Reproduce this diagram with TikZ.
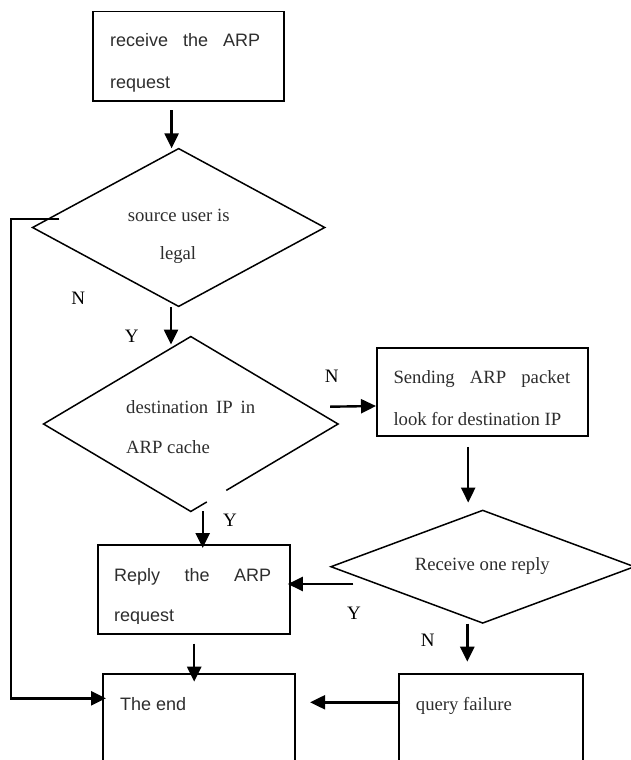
\documentclass[tikz,border=0pt]{standalone}
\usepackage{fontspec}
\setmainfont{Liberation Serif}
\newfontfamily\arialfont{Liberation Sans}
\usetikzlibrary{arrows.meta,shapes.geometric,calc}
\definecolor{txtgray}{RGB}{45,45,45}
\begin{document}
\begin{tikzpicture}[x=1pt,y=-1pt,
  box/.style={draw, line width=1.8pt, inner sep=0pt, anchor=north west},
  dia/.style={diamond, line width=1.5pt, inner sep=0pt},
  flow/.style={line width=2.4pt, -{Triangle[length=15pt,width=14pt]}},
  sanstxt/.style={font=\arialfont\fontsize{18}{18}\selectfont, text=txtgray, inner sep=0pt, anchor=base west},
  sertxt/.style={font=\fontsize{18.7}{18.7}\selectfont, text=txtgray, inner sep=0pt, anchor=base west},
  yn/.style={font=\fontsize{19}{19}\selectfont, inner sep=0pt}]
\clip (0,0) rectangle (631,760);

% boxes
\node[box, minimum width=191.6pt, minimum height=89.3pt] (recv) at (91.7,10.7) {};
\node[box, minimum width=211.3pt, minimum height=88.3pt] (send) at (376,346.7) {};
\node[box, minimum width=192pt, minimum height=88.7pt] (reply) at (96.7,544) {};
\node[box, minimum width=192pt, minimum height=110pt] (theend) at (102,673.3) {};
\node[box, minimum width=184pt, minimum height=110pt] (fail) at (397.7,673.3) {};

% diamonds
\node[dia, draw, minimum width=292.7pt, minimum height=158.4pt] (d1) at (178.65,227.5) {};
\node[dia, minimum width=293pt, minimum height=173.4pt] (d2) at (190.8,424) {};
\draw[line width=1.5pt] ($(d2.east)!0.759!(d2.south)$) -- (d2.east) -- (d2.north) -- (d2.west) -- (d2.south) -- ($(d2.east)!0.891!(d2.south)$);
\node[dia, draw, minimum width=304pt, minimum height=113.3pt] (d3) at (482.7,566.7) {};

% texts
\node[sanstxt] (t1a) at (110,46.7) {\makebox[150pt][s]{receive the ARP}};
\node[sanstxt] (t1b) at (110,88.3) {request};
\node[sertxt, anchor=base] (t2a) at (178.7,221.7) {source user is};
\node[sertxt, anchor=base] (t2b) at (178,259) {legal};
\node[sertxt] (t3a) at (126,413) {\makebox[129pt][s]{destination IP in}};
\node[sertxt] (t3b) at (126,453) {ARP cache};
\node[sertxt] (t4a) at (393.3,383.3) {\makebox[176.7pt][s]{Sending ARP packet}};
\node[sertxt] (t4b) at (393.3,425) {look for destination IP};
\node[sertxt, anchor=base] (t5) at (482.3,570) {Receive one reply};
\begin{scope}
\clip (100,550) rectangle (286,623.5);
\node[sanstxt] (t6a) at (114,581.7) {\makebox[157pt][s]{Reply the ARP}};
\node[sanstxt] (t6b) at (114,621.7) {request};
\end{scope}
\node[sanstxt] (t7) at (120,710.7) {The end};
\node[sertxt] (t8) at (415.7,710) {query failure};

% Y / N labels
\node[yn] (n1) at (78.3,298.3) {N};
\node[yn] (y2) at (131.7,336.7) {Y};
\node[yn] (y3) at (230,520.7) {Y};
\node[yn] (n4) at (331.7,376.7) {N};
\node[yn] (y5) at (354,613.3) {Y};
\node[yn] (n6) at (427.7,640) {N};

% connectors
\draw[flow] ($(recv.south)+(-16.8,8.3)$) coordinate (a1) -- ($(a1 |- d1.north)+(0,0.8)$);
\draw[flow] ($(d1.south)+(-7.65,0)$) coordinate (a2) -- ($(a2 |- d2.north)+(0,8)$);
\draw[flow] ($(d2.south)+(11.9,0)$) coordinate (a3) -- ($(a3 |- reply.north)+(0,4)$);
\draw[flow] ($(reply.south)+(0.6,9)$) coordinate (a4) -- ($(a4 |- theend.north)+(0,8.4)$);
\draw[flow, line join=miter] ($(d1.west)+(27.7,-8.3)$) -- ++(-48.3,0) |- ($(theend.north west)+(4,25)$);
\draw[flow] ($(d2.east)+(-8,-17.3)$) -- ($(send.north west)+(0,59.3)$);
\draw[flow] ($(send.south)+(-14.35,10)$) coordinate (a7) -- ($(a7 |- d3.north)+(0,-6.7)$);
\draw[flow] ($(d3.west)+(23.3,17.3)$) -- ($(reply.north east)+(-2.7,40)$);
\draw[flow] ($(d3.south)+(-15.4,-0.6)$) coordinate (a9) -- ($(a9 |- fail.north)+(0,-11.6)$);
\draw[flow] ($(fail.north west)+(2.3,29)$) -- ($(theend.north east)+(14.3,29)$);
\end{tikzpicture}
\end{document}
